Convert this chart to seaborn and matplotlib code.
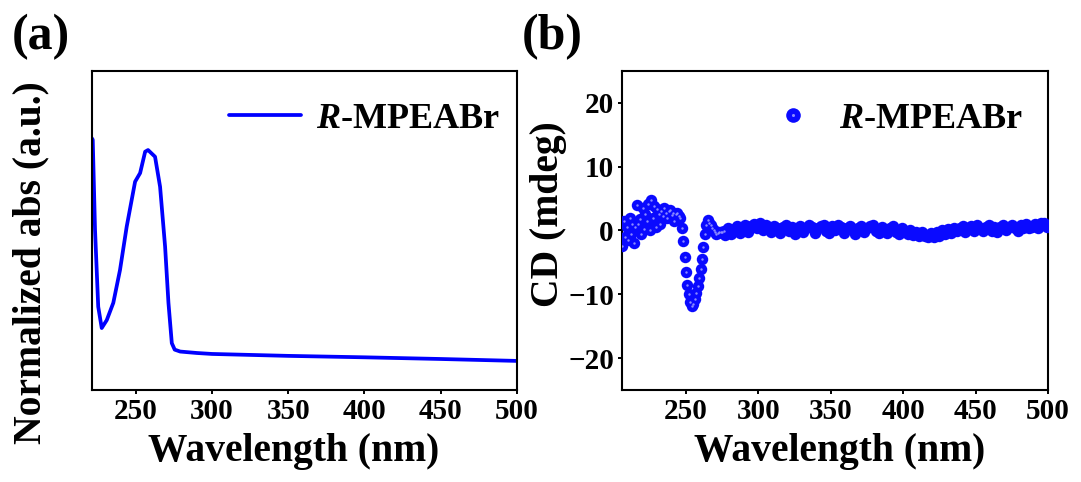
import numpy as np
import pandas as pd
import matplotlib
matplotlib.use("Agg")
import matplotlib.pyplot as plt
import seaborn as sns
from matplotlib.lines import Line2D
from matplotlib.legend_handler import HandlerTuple

# ---------------- data ----------------
# (a) normalized absorption of R-MPEABr
abs_wavelength = [221.0, 221.7, 223.2, 225.3, 227.6, 230.9, 235.2, 239.6, 244.0,
                  249.5, 252.8, 256.1, 258.0, 262.6, 265.9, 269.2, 271.4, 273.6,
                  275.5, 279.1, 290.0, 300.0, 350.0, 400.0, 450.0, 500.0]
abs_norm = [1.05, 1.043, 0.668, 0.347, 0.258, 0.291, 0.363, 0.500, 0.681,
            0.868, 0.904, 0.993, 1.000, 0.972, 0.847, 0.597, 0.363, 0.195,
            0.168, 0.160, 0.154, 0.150, 0.142, 0.136, 0.129, 0.121]

# (b) circular dichroism, fine region (1 nm step)
cd_wl_fine = list(range(206, 277))
cd_fine = [-2.5, 1.5, -1.0, 0.5, -1.5, 2.0, -0.5, 1.0, -2.0, 0.5,
           4.0, 1.0, 1.8, -0.5, 3.5, 0.2, 2.6, 1.5, 4.2, 0.0,
           4.7, 2.0, 3.8, 0.5, 3.4, 2.5, 1.0, 3.0, 2.2, 3.5,
           2.8, 2.0, 3.0, 3.2, 2.4, 2.8, 1.5, 2.6, 2.8, 2.2,
           2.0, 0.3, -1.6, -4.2, -6.5, -8.5, -10.0, -11.2, -11.8, -11.5,
           -10.8, -9.8, -8.7, -7.5, -6.0, -4.5, -2.6, -0.5, 0.8, 1.6,
           1.2, 0.8, 0.4, 0.0, -0.3, -0.5, -0.4, -0.3, -0.2, -0.2,
           -0.1]
# (b) circular dichroism, flat region (2 nm step)
cd_wl_flat = list(range(277, 500, 2))
cd_flat = [-0.7, 0.4, -0.5, 0.2, 0.7, -0.4, 0.5, 0.9, -0.2, 0.7,
           1.0, 0.3, 1.1, 0.1, 0.8, 0.5, -0.3, 0.7, 0.3, -0.4,
           0.5, 0.8, -0.1, 0.5, -0.5, 0.3, 0.7, -0.2, 0.3, 0.8,
           0.5, -0.4, 0.3, 0.7, 0.8, -0.1, -0.4, 0.7, 0.1, 0.8,
           0.5, -0.4, 0.3, 0.7, 0.1, -0.5, 0.3, 0.7, -0.2, 0.3,
           0.7, 0.8, -0.1, -0.4, 0.5, 0.1, -0.4, 0.3, 0.7, -0.2,
           -0.5, 0.3, -0.2, -0.6, 0.1, -0.7, -0.2, -0.9, -0.3, -0.8,
           -1.0, -0.4, -1.0, -0.3, -0.8, 0.0, -0.5, 0.2, -0.4, 0.3,
           -0.1, 0.3, 0.7, -0.2, 0.3, 0.7, -0.1, 0.8, 0.3, -0.1,
           0.5, 0.8, -0.1, 0.5, -0.2, 0.5, 0.8, 0.0, 0.5, 0.9,
           0.3, -0.1, 0.8, 0.4, 1.0, 0.3, 0.6, 1.0, 0.3, 1.1,
           1.2, 0.6]

abs_df = pd.DataFrame({"wl": abs_wavelength, "a": abs_norm})
cd_df = pd.DataFrame({"wl": cd_wl_fine + cd_wl_flat, "cd": cd_fine + cd_flat})

x_ticks = [250, 300, 350, 400, 450, 500]
cd_ticks = [-20, -10, 0, 10, 20]
legend_label = r"$\mathbfit{R}$-MPEABr"

# ---------------- style ----------------
sns.set_theme(style="ticks")
plt.rcParams["font.family"] = ["Liberation Serif", "DejaVu Serif"]
plt.rcParams.update({
    "font.weight": "bold",
    "axes.labelweight": "bold",
    "text.color": "black",
    "axes.labelcolor": "black",
    "xtick.color": "black",
    "ytick.color": "black",
    "axes.edgecolor": "black",
    "mathtext.fontset": "custom",
    "mathtext.rm": "Liberation Serif:bold",
    "mathtext.bf": "Liberation Serif:bold",
    "mathtext.bfit": "Liberation Serif:bold:italic",
    "mathtext.it": "Liberation Serif:bold:italic",
})

BLUE = "#0000ff"
BALL = "#0a0aff"
SHINE = "#8c8cff"

fig = plt.figure(figsize=(10.81, 4.82), dpi=100)
ax1 = fig.add_axes([0.0848, 0.191, 0.3932, 0.662])
ax2 = fig.add_axes([0.5757, 0.191, 0.3938, 0.662])

# ---------------- (a) absorption ----------------
sns.lineplot(data=abs_df, x="wl", y="a", ax=ax1, color=BLUE, lw=2.7,
             sort=False, estimator=None)
ax1.set_xlim(221, 500)
ax1.set_ylim(0, 1.33)
ax1.set_yticks([])
ax1.set_xticks(x_ticks)

# ---------------- (b) CD ----------------
sns.scatterplot(data=cd_df, x="wl", y="cd", ax=ax2, s=68,
                facecolor=BALL, edgecolor=BALL, linewidth=0, alpha=1.0, zorder=3)
shine_df = cd_df[cd_df["wl"] < 277]
sns.scatterplot(data=shine_df, x="wl", y="cd", ax=ax2, s=3,
                facecolor=SHINE, edgecolor=SHINE, linewidth=0, zorder=4)
ax2.set_xlim(206, 500)
ax2.set_ylim(-25, 25)
ax2.set_xticks(x_ticks)
ax2.set_yticks(cd_ticks)

for ax in (ax1, ax2):
    for sp in ax.spines.values():
        sp.set_visible(True)
        sp.set_linewidth(1.5)
        sp.set_color("black")
    ax.tick_params(direction="out", length=3, width=1.4, labelsize=21,
                   pad=3, colors="black")
    for lab in ax.get_xticklabels() + ax.get_yticklabels():
        lab.set_fontweight("bold")
    ax.set_xlabel("Wavelength (nm)", fontsize=28.5, fontweight="bold")
    ax.xaxis.label.set_va("top")

ax1.set_ylabel("Normalized abs (a.u.)", fontsize=28.5, fontweight="bold")
ax2.set_ylabel("CD (mdeg)", fontsize=28.5, fontweight="bold")
ax1.xaxis.set_label_coords(0.476, -0.135)
ax2.xaxis.set_label_coords(0.511, -0.135)
ax1.yaxis.set_label_coords(-0.10, 0.40)
ax2.yaxis.set_label_coords(-0.13, 0.55)

# ---------------- legends ----------------
line_handle = Line2D([], [], color=BLUE, lw=2.7)
ax1.legend([line_handle], [legend_label], loc="upper right",
           bbox_to_anchor=(0.96, 0.90), frameon=False, fontsize=26,
           handlelength=2.0, handletextpad=0.4, borderpad=0, borderaxespad=0)

ball_handle = Line2D([], [], ls="", marker="o", markersize=10.5,
                     markerfacecolor=BALL, markeredgecolor=BALL, markeredgewidth=0)
shine_handle = Line2D([], [], ls="", marker="o", markersize=2.2,
                      markerfacecolor=SHINE, markeredgecolor="none")
ax2.legend([(ball_handle, shine_handle)], [legend_label], loc="upper right",
           bbox_to_anchor=(0.94, 0.90), frameon=False, fontsize=26,
           handler_map={tuple: HandlerTuple(ndivide=1, pad=0)},
           handlelength=1.0, handletextpad=0.75, borderpad=0, borderaxespad=0)

# ---------------- panel labels ----------------
fig.text(0.011, 0.97, "(a)", fontsize=36, fontweight="bold", va="top", ha="left")
fig.text(0.483, 0.97, "(b)", fontsize=36, fontweight="bold", va="top", ha="left")

fig.savefig("out.png", dpi=100)
